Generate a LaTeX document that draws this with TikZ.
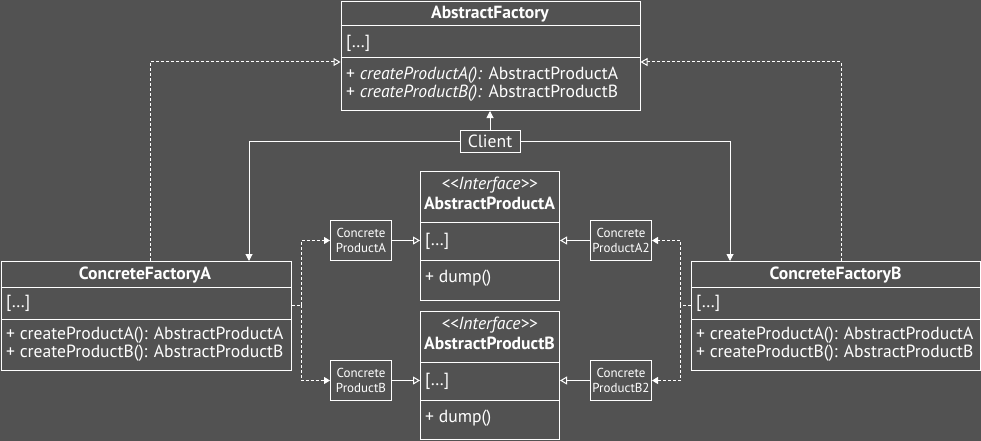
\documentclass[tikz,border=0pt]{standalone}
\usepackage{fontspec}
\setmainfont{PT Sans}
\usetikzlibrary{arrows.meta}
\definecolor{bg}{RGB}{82,82,82}
\begin{document}
\begin{tikzpicture}[x=1pt,y=-1pt,
  every node/.style={text=white,inner sep=0pt},
  ln/.style={draw=white,line width=1pt},
  dsh/.style={ln,dash pattern=on 3pt off 2pt},
  box/.style={draw=white,line width=1pt,anchor=north west,inner sep=0pt},
  tx/.style={font=\fontsize{17.6}{18}\selectfont},
  ttl/.style={font=\fontsize{17.6}{18}\selectfont\bfseries},
  lt/.style={tx,anchor=west},
  sm/.style={box,align=center,font=\fontsize{13}{15}\selectfont},
  filled/.style={-{Triangle[width=7pt,length=7pt]}},
  realz/.style={-{Triangle[open,width=8pt,length=7pt,fill=bg]}},
  dep/.style={-{Triangle[width=7pt,length=6pt]}}]
\fill[bg] (0,0) rectangle (981,441);
\useasboundingbox (0,0) rectangle (981,441);

% AbstractFactory
\node[box,minimum width=299pt,minimum height=109pt] (af) at (340.5,1) {};
\draw[ln] (af.west |- 0,26) -- (af.east |- 0,26);
\draw[ln] (af.west |- 0,58) -- (af.east |- 0,58);
\node[ttl] (aft) at (490,14) {AbstractFactory};
\node[lt] (aff) at (346,43) {[…]};
\node[lt] (afm1) at (346,75) {+ \textit{createProductA():} AbstractProductA};
\node[lt] (afm2) at (346,93) {+ \textit{createProductB():} AbstractProductB};

% Client
\node[draw=white,line width=1pt,minimum width=60pt,minimum height=22pt,tx] (cl) at (490,141) {Client};

% ConcreteFactoryA
\node[box,minimum width=290pt,minimum height=109pt] (cfa) at (0.5,261) {};
\draw[ln] (cfa.west |- 0,287) -- (cfa.east |- 0,287);
\draw[ln] (cfa.west |- 0,319) -- (cfa.east |- 0,319);
\node[ttl] (cfat) at (145,275) {ConcreteFactoryA};
\node[lt] (cfaf) at (6,303) {[…]};
\node[lt] (cfam1) at (6,335) {+ createProductA(): AbstractProductA};
\node[lt] (cfam2) at (6,353) {+ createProductB(): AbstractProductB};

% ConcreteFactoryB
\node[box,minimum width=289pt,minimum height=109pt] (cfb) at (691,261) {};
\draw[ln] (cfb.west |- 0,287) -- (cfb.east |- 0,287);
\draw[ln] (cfb.west |- 0,319) -- (cfb.east |- 0,319);
\node[ttl] (cfbt) at (835.5,275) {ConcreteFactoryB};
\node[lt] (cfbf) at (696,303) {[…]};
\node[lt] (cfbm1) at (696,335) {+ createProductA(): AbstractProductA};
\node[lt] (cfbm2) at (696,353) {+ createProductB(): AbstractProductB};

% AbstractProductA
\node[box,minimum width=139pt,minimum height=129pt] (apa) at (420,171) {};
\draw[ln] (apa.west |- 0,222) -- (apa.east |- 0,222);
\draw[ln] (apa.west |- 0,260) -- (apa.east |- 0,260);
\node[tx] (apai) at (489.5,185) {\textit{<{}<Interface>{}>}};
\node[ttl] (apat) at (489.5,203) {AbstractProductA};
\node[lt] (apaf) at (425,241) {[…]};
\node[lt] (apam) at (425,278) {+ dump()};

% AbstractProductB
\node[box,minimum width=139pt,minimum height=128pt] (apb) at (420,311) {};
\draw[ln] (apb.west |- 0,362) -- (apb.east |- 0,362);
\draw[ln] (apb.west |- 0,400) -- (apb.east |- 0,400);
\node[tx] (apbi) at (489.5,325) {\textit{<{}<Interface>{}>}};
\node[ttl] (apbt) at (489.5,343) {AbstractProductB};
\node[lt] (apbf) at (425,381) {[…]};
\node[lt] (apbm) at (425,418) {+ dump()};

% Concrete products
\node[sm,minimum width=61pt,minimum height=40pt] (cpa) at (330,220) {Concrete\\ProductA};
\node[sm,minimum width=61pt,minimum height=40pt] (cpa2) at (590,220) {Concrete\\ProductA2};
\node[sm,minimum width=61pt,minimum height=40pt] (cpb) at (330,360) {Concrete\\ProductB};
\node[sm,minimum width=61pt,minimum height=40pt] (cpb2) at (590,360) {Concrete\\ProductB2};

% realization of products
\draw[ln,realz] (cpa.east) -- (cpa.east -| apa.west);
\draw[ln,realz] (cpa2.west) -- (cpa2.west -| apa.east);
\draw[ln,realz] (cpb.east) -- (cpb.east -| apb.west);
\draw[ln,realz] (cpb2.west) -- (cpb2.west -| apb.east);

% client associations
\coordinate (cat) at (249,261);
\coordinate (cbt) at (730,261);
\draw[ln,filled] (cl.north) -- (cl.north |- af.south);
\draw[ln,filled] (cl.west) -| (cat);
\draw[ln,filled] (cl.east) -| (cbt);

% factory realizations
\coordinate (fat) at (150,261);
\coordinate (fbt) at (841,261);
\draw[dsh,realz] (fat) |- (af.west |- 0,62);
\draw[dsh,realz] (fbt) |- (af.east |- 0,62);

% dependencies
\coordinate (lj) at (301,305);
\coordinate (rj) at (680,305);
\draw[dsh] (cfa.east |- lj) -- (lj);
\draw[dsh,dep] (lj) |- (cpa.west);
\draw[dsh,dep] (lj) |- (cpb.west);
\draw[dsh] (cfb.west |- rj) -- (rj);
\draw[dsh,dep] (rj) |- (cpa2.east);
\draw[dsh,dep] (rj) |- (cpb2.east);
\end{tikzpicture}
\end{document}
